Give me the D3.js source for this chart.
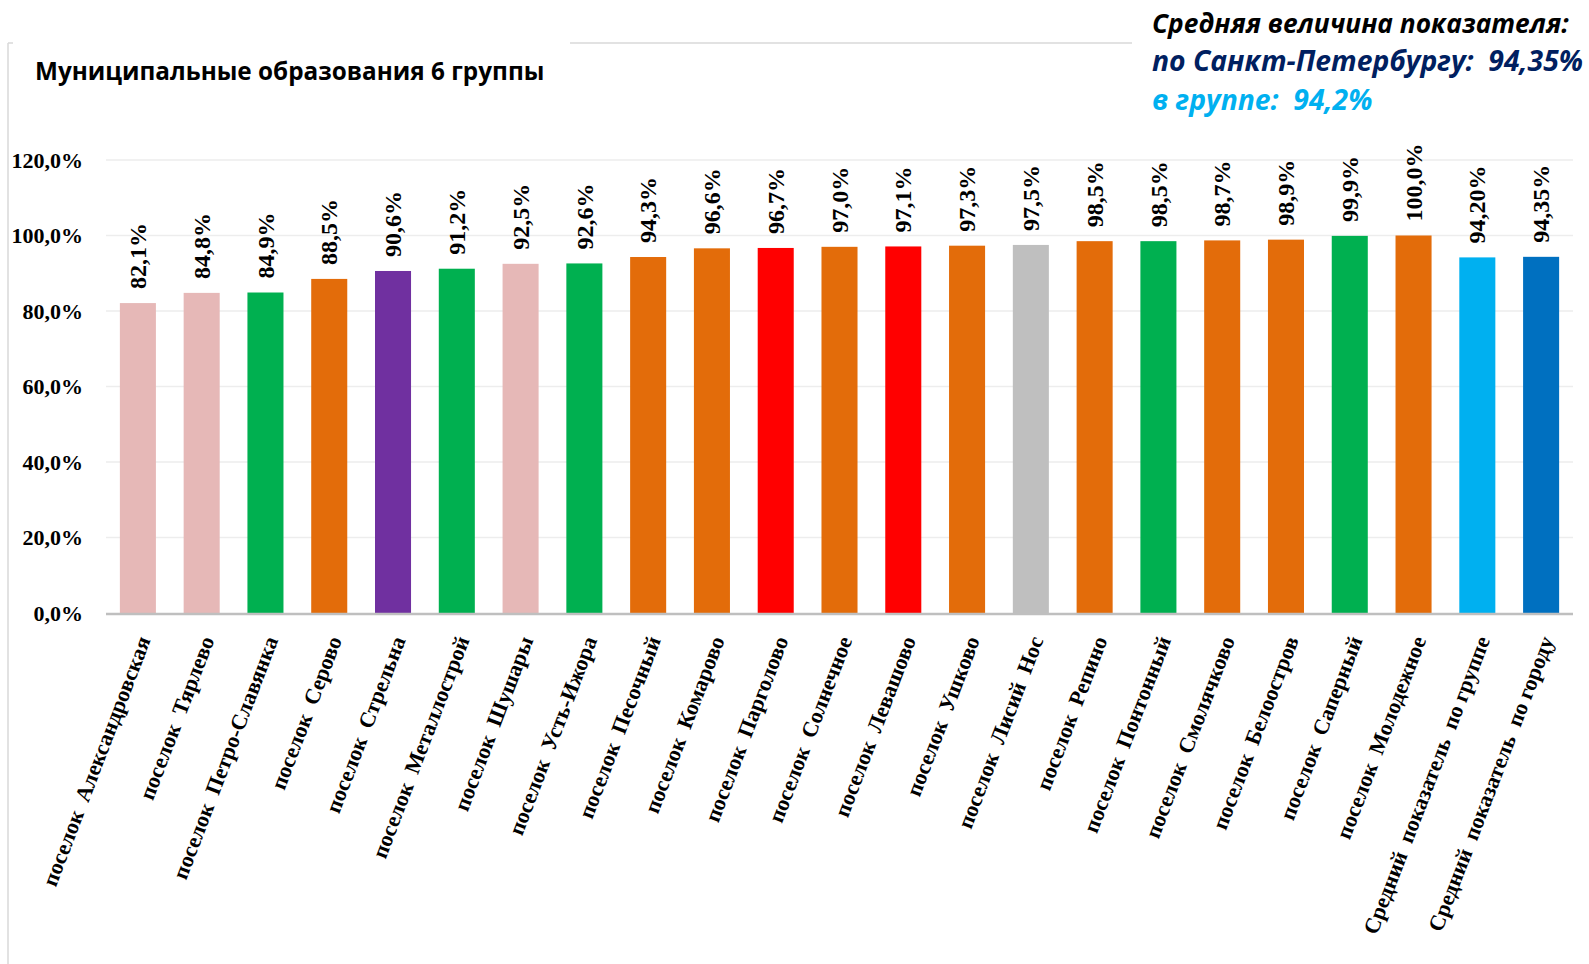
<!DOCTYPE html>
<html>
<head>
<meta charset="utf-8">
<script src="https://d3js.org/d3.v7.min.js"></script>
<style>
    body { margin: 0; background: #fff; }
    .tick text { font-family: "Liberation Serif", "Times New Roman", serif; font-weight: bold; }
</style>
</head>
<body>
<svg width="1589" height="964"></svg>
<script>
    // данные
    const names = [
        "поселок  Александровская", "поселок  Тярлево", "поселок  Петро-Славянка", "поселок  Серово",
        "поселок  Стрельна", "поселок  Металлострой", "поселок  Шушары", "поселок  Усть-Ижора",
        "поселок  Песочный", "поселок  Комарово", "поселок  Парголово", "поселок  Солнечное",
        "поселок  Левашово", "поселок  Ушково", "поселок  Лисий  Нос", "поселок  Репино",
        "поселок  Понтонный", "поселок  Смолячково", "поселок  Белоостров", "поселок  Саперный",
        "поселок  Молодежное", "Средний  показатель  по группе", "Средний  показатель  по городу"
    ];
    const values = [82.1, 84.8, 84.9, 88.5, 90.6, 91.2, 92.5, 92.6, 94.3, 96.6, 96.7, 97.0,
        97.1, 97.3, 97.5, 98.5, 98.5, 98.7, 98.9, 99.9, 100.0, 94.20, 94.35];
    const valueLabels = ["82,1%", "84,8%", "84,9%", "88,5%", "90,6%", "91,2%", "92,5%", "92,6%",
        "94,3%", "96,6%", "96,7%", "97,0%", "97,1%", "97,3%", "97,5%", "98,5%", "98,5%", "98,7%",
        "98,9%", "99,9%", "100,0%", "94,20%", "94,35%"];
    const barColors = ["#E6B8B7", "#E6B8B7", "#00B050", "#E36C0A", "#7030A0", "#00B050", "#E6B8B7",
        "#00B050", "#E36C0A", "#E36C0A", "#FF0000", "#E36C0A", "#FF0000", "#E36C0A", "#BFBFBF",
        "#E36C0A", "#00B050", "#E36C0A", "#E36C0A", "#00B050", "#E36C0A", "#00B0F0", "#0070C0"];
    const yTicks = [0, 20, 40, 60, 80, 100, 120];

    const data = names.map((n, i) => ({ name: n, value: values[i], label: valueLabels[i], color: barColors[i] }));

    const svg = d3.select("svg");

    // рамка (частично закрыта надписями)
    svg.append("line").attr("x1", 8).attr("x2", 8).attr("y1", 43).attr("y2", 964)
        .attr("stroke", "#D9D9D9").attr("stroke-width", 1.5);
    svg.append("line").attr("x1", 8).attr("x2", 13).attr("y1", 43).attr("y2", 43)
        .attr("stroke", "#D9D9D9").attr("stroke-width", 1.5);
    svg.append("line").attr("x1", 570).attr("x2", 1132).attr("y1", 43).attr("y2", 43)
        .attr("stroke", "#D9D9D9").attr("stroke-width", 1.5);

    const x = d3.scaleBand()
        .domain(data.map(d => d.name))
        .range([106, 1573])
        .paddingInner(0.435)
        .paddingOuter(0.2175);

    const y = d3.scaleLinear()
        .domain([0, 120])
        .range([613, 160]);

    // сетка
    svg.append("g").selectAll("line")
        .data(yTicks.filter(t => t > 0))
        .enter().append("line")
        .attr("x1", 106).attr("x2", 1573)
        .attr("y1", d => y(d)).attr("y2", d => y(d))
        .attr("stroke", "#EDEDED").attr("stroke-width", 1.5);

    // ось Y
    const yAxis = svg.append("g").attr("transform", "translate(83,0)")
        .call(d3.axisLeft(y).tickValues(yTicks).tickSize(0).tickPadding(0)
            .tickFormat(d => d + ",0%"));
    yAxis.select(".domain").remove();
    yAxis.selectAll("text").attr("font-size", 22).attr("fill", "#000");

    // столбцы
    svg.append("g").selectAll("rect")
        .data(data)
        .enter().append("rect")
        .attr("x", d => x(d.name))
        .attr("y", d => y(d.value))
        .attr("width", x.bandwidth())
        .attr("height", d => y(0) - y(d.value))
        .attr("fill", d => d.color);

    // подписи значений
    svg.append("g").selectAll("text")
        .data(data)
        .enter().append("text")
        .attr("transform", d => "translate(" + (x(d.name) + x.bandwidth() / 2) + "," + (y(d.value) - 14) + ") rotate(-90)")
        .attr("dy", "0.34em")
        .attr("font-family", "'Liberation Serif', 'Times New Roman', serif")
        .attr("font-weight", "bold")
        .attr("font-size", 24)
        .text(d => d.label);

    // ось X
    svg.append("line").attr("x1", 106).attr("x2", 1573).attr("y1", 614).attr("y2", 614)
        .attr("stroke", "#BFBFBF").attr("stroke-width", 2.5);

    const xAxis = svg.append("g").attr("transform", "translate(0,614)")
        .call(d3.axisBottom(x).tickSize(0).tickPadding(0));
    xAxis.select(".domain").remove();
    xAxis.selectAll("text")
        .attr("font-size", 22)
        .attr("fill", "#000")
        .attr("text-anchor", "end")
        .attr("dy", 0)
        .attr("y", 0)
        .attr("transform", "translate(13,26) rotate(-69)")
        .style("white-space", "pre")
        .attr("xml:space", "preserve");

    // заголовок
    svg.append("text")
        .attr("x", 35).attr("y", 80)
        .attr("font-family", "'Open Sans', sans-serif")
        .attr("font-weight", "bold")
        .attr("font-size", 24.3)
        .attr("fill", "#000")
        .text("Муниципальные образования 6 группы");

    const notes = [
        { t: "Средняя величина показателя:", c: "#000000", y: 33, s: 26.3 },
        { t: "по Санкт-Петербургу:  94,35%", c: "#002060", y: 71, s: 28.3 },
        { t: "в группе:  94,2%", c: "#00B0F0", y: 110, s: 28.3 }
    ];
    svg.append("g").selectAll("text")
        .data(notes)
        .enter().append("text")
        .attr("x", 1152).attr("y", d => d.y)
        .attr("font-family", "'Open Sans', sans-serif")
        .attr("font-weight", "bold")
        .attr("font-style", "italic")
        .attr("font-size", d => d.s)
        .attr("fill", d => d.c)
        .style("white-space", "pre")
        .text(d => d.t);
</script>
</body>
</html>
